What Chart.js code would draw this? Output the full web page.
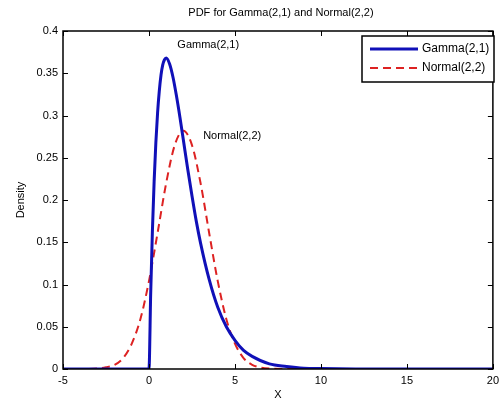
<!DOCTYPE html>
<html>
<head>
<meta charset="UTF-8" />
<title>PDF for Gamma(2,1) and Normal(2,2)</title>
<script src="https://cdn.jsdelivr.net/npm/chart.js"></script>
<style>
  body { margin: 0; background: #fff; }
  #wrap { width: 504px; height: 406px; }
</style>
</head>
<body>
<div id="wrap"><canvas id="pdf"></canvas></div>
<script>
// values
const gammaX = [-5, 0, 0.1, 0.2, 0.3, 0.4, 0.5, 0.6, 0.7, 0.8, 0.9, 1.0, 1.2, 1.4, 1.6, 1.8, 2.0, 2.25, 2.5, 2.75, 3.0, 3.5, 4.0, 4.5, 5.0, 5.5, 6, 7, 8, 9, 10, 12, 15, 20];
const gammaY = [0, 0, 0.090, 0.164, 0.222, 0.268, 0.303, 0.329, 0.348, 0.360, 0.366, 0.368, 0.361, 0.345, 0.323, 0.298, 0.271, 0.237, 0.205, 0.175, 0.149, 0.106, 0.073, 0.050, 0.034, 0.022, 0.015, 0.006, 0.003, 0.001, 0.0005, 0.0001, 0, 0];
const normalX = [-5, -4, -3, -2.5, -2, -1.5, -1, -0.5, 0, 0.5, 1, 1.5, 2, 2.5, 3, 3.5, 4, 4.5, 5, 5.5, 6, 7, 8, 10, 15, 20];
const normalY = [0, 0, 0.0005, 0.002, 0.005, 0.013, 0.030, 0.059, 0.104, 0.161, 0.220, 0.265, 0.282, 0.265, 0.220, 0.161, 0.104, 0.059, 0.030, 0.013, 0.005, 0.0005, 0, 0, 0, 0];
const xTicks = [-5, 0, 5, 10, 15, 20];
const yTicks = [0, 0.05, 0.1, 0.15, 0.2, 0.25, 0.3, 0.35, 0.4];
const seriesNames = ['Gamma(2,1)', 'Normal(2,2)'];
const chartTitle = 'PDF for Gamma(2,1) and Normal(2,2)';
const notes = [
  { text: 'Gamma(2,1)', x: 1.65, y: 0.383 },
  { text: 'Normal(2,2)', x: 3.15, y: 0.276 }
];

const FONT = '"Liberation Sans", Arial, sans-serif';
const BLUE = '#1010b8';
const RED = '#dd2222';

const pts = (xs, ys) => xs.map((x, i) => ({ x: x, y: ys[i] }));

// box, inside ticks, title, notes and legend, MATLAB style
const matlabBits = {
  id: 'matlabBits',
  afterDraw(chart) {
    const c = chart.ctx, a = chart.chartArea;
    const sx = chart.scales.x, sy = chart.scales.y;
    c.save();
    c.strokeStyle = '#000';
    c.lineWidth = 1.5;
    c.strokeRect(a.left, a.top, a.right - a.left, a.bottom - a.top);
    c.lineWidth = 1;
    c.beginPath();
    xTicks.forEach(v => {
      const p = Math.round(sx.getPixelForValue(v)) + 0.5;
      c.moveTo(p, a.bottom); c.lineTo(p, a.bottom - 5);
      c.moveTo(p, a.top); c.lineTo(p, a.top + 5);
    });
    yTicks.forEach(v => {
      const p = Math.round(sy.getPixelForValue(v)) + 0.5;
      c.moveTo(a.left, p); c.lineTo(a.left + 5, p);
      c.moveTo(a.right, p); c.lineTo(a.right - 5, p);
    });
    c.stroke();

    c.fillStyle = '#000';
    c.font = '11px ' + FONT;
    c.textAlign = 'center';
    c.textBaseline = 'middle';
    c.fillText(chartTitle, (a.left + a.right) / 2 + 3, 13);

    c.textAlign = 'left';
    notes.forEach(n => c.fillText(n.text, sx.getPixelForValue(n.x), sy.getPixelForValue(n.y)));

    // legend box
    const lx = 362, ly = 36, lw = 132, lh = 46;
    c.fillStyle = '#fff';
    c.fillRect(lx, ly, lw, lh);
    c.lineWidth = 1.5;
    c.strokeRect(lx, ly, lw, lh);
    c.lineWidth = 3;
    c.strokeStyle = BLUE;
    c.beginPath(); c.moveTo(lx + 8, ly + 13); c.lineTo(lx + 56, ly + 13); c.stroke();
    c.lineWidth = 2;
    c.strokeStyle = RED;
    c.setLineDash([8, 5]);
    c.beginPath(); c.moveTo(lx + 8, ly + 32); c.lineTo(lx + 56, ly + 32); c.stroke();
    c.setLineDash([]);
    c.fillStyle = '#000';
    c.font = '12px ' + FONT;
    c.fillText(seriesNames[0], lx + 60, ly + 13);
    c.fillText(seriesNames[1], lx + 60, ly + 32);
    c.restore();
  }
};

new Chart(document.getElementById('pdf'), {
  type: 'line',
  data: {
    datasets: [
      { label: seriesNames[0], data: pts(gammaX, gammaY), borderColor: BLUE, borderWidth: 3, pointRadius: 0, cubicInterpolationMode: 'monotone', fill: false },
      { label: seriesNames[1], data: pts(normalX, normalY), borderColor: RED, borderWidth: 2, borderDash: [8, 5], pointRadius: 0, cubicInterpolationMode: 'monotone', fill: false }
    ]
  },
  options: {
    responsive: true,
    maintainAspectRatio: false,
    animation: false,
    layout: { padding: { top: 31, right: 8, left: 0, bottom: 0 } },
    plugins: { legend: { display: false }, tooltip: { enabled: false } },
    scales: {
      x: {
        type: 'linear', min: -5, max: 20,
        afterBuildTicks: s => { s.ticks = xTicks.map(v => ({ value: v })); },
        afterFit: s => { s.height = 37; },
        grid: { display: false, drawTicks: false },
        border: { display: false },
        ticks: { color: '#000', font: { family: FONT, size: 11 }, padding: 5, maxRotation: 0, callback: v => String(v) },
        title: { display: true, text: 'X', color: '#000', font: { family: FONT, size: 11 }, padding: { top: 0, bottom: 4 } }
      },
      y: {
        type: 'linear', min: 0, max: 0.4,
        afterBuildTicks: s => { s.ticks = yTicks.map(v => ({ value: v })); },
        afterFit: s => { s.width = 63; },
        grid: { display: false, drawTicks: false },
        border: { display: false },
        ticks: { color: '#000', font: { family: FONT, size: 11 }, padding: 5, callback: v => String(v) },
        title: { display: true, text: 'Density', color: '#000', font: { family: FONT, size: 11 }, padding: { top: 14, bottom: 0 } }
      }
    }
  },
  plugins: [matlabBits]
});
</script>
</body>
</html>
